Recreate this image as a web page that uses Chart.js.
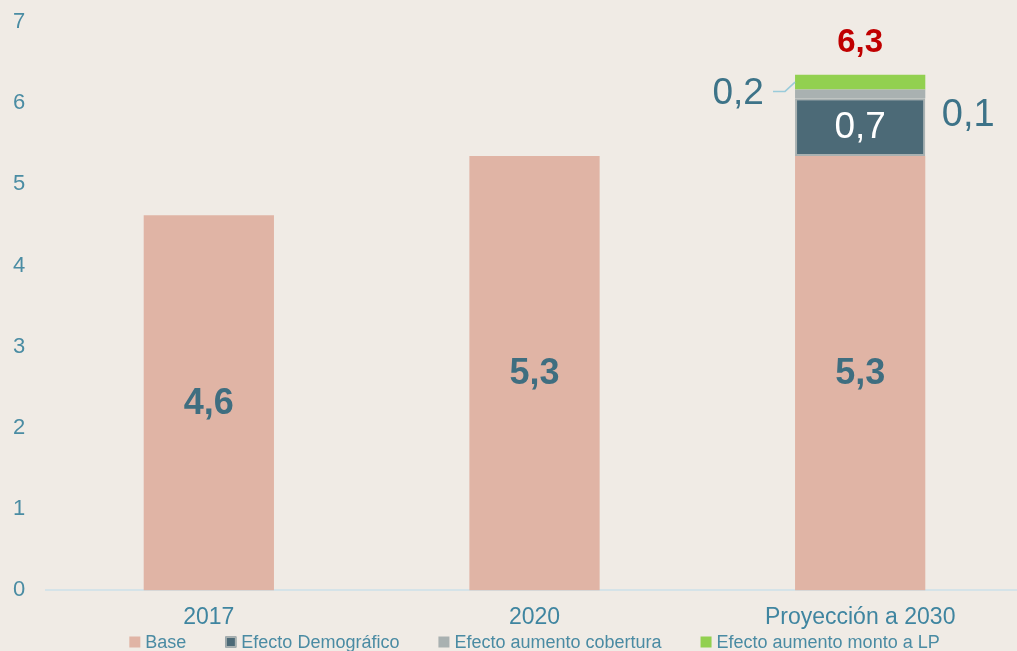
<!DOCTYPE html>
<html>
<head>
<meta charset="utf-8">
<script src="https://cdn.jsdelivr.net/npm/chart.js@4"></script>
<style>
  html, body { margin: 0; padding: 0; background: #F0EBE5; overflow: hidden; }
  #wrap { width: 1017px; height: 651px; overflow: hidden; }
</style>
</head>
<body>
<div id="wrap"><canvas id="chart" width="1023" height="651"></canvas></div>
<script>
'use strict';

const categories = ['2017', '2020', 'Proyección a 2030'];
const seriesNames = ['Base', 'Efecto Demográfico', 'Efecto aumento cobertura', 'Efecto aumento monto a LP'];
const seriesColors = ['#E0B4A5', '#4C6A77', '#A9B1B1', '#92D050'];
const baseValues = [4.62, 5.35, 5.35];
const demoValues = [0, 0, 0.71];
const coberturaValues = [0, 0, 0.11];
const montoValues = [0, 0, 0.18];
const yTicks = [0, 1, 2, 3, 4, 5, 6, 7];
const totalLabel = '6,3';

const FONT = '"Liberation Sans", Arial, sans-serif';
const fmt = v => v.toFixed(1).replace('.', ',');

// etiquetas de valores sobre las barras
const labelPlugin = {
    id: 'barLabels',
    afterDatasetsDraw(chart) {
        const c = chart.ctx;
        c.save();
        c.textAlign = 'center';
        c.textBaseline = 'middle';

        c.font = 'bold 36px ' + FONT;
        c.fillStyle = '#3F6E80';
        chart.getDatasetMeta(0).data.forEach((bar, i) => {
            c.fillText(fmt(baseValues[i]), bar.x, (bar.y + bar.base) / 2 + 1);
        });

        const last = categories.length - 1;
        const demo = chart.getDatasetMeta(1).data[last];
        const cob = chart.getDatasetMeta(2).data[last];
        const monto = chart.getDatasetMeta(3).data[last];
        const demoMid = (demo.y + demo.base) / 2;

        c.font = '37px ' + FONT;
        c.fillStyle = '#FFFFFF';
        c.fillText(fmt(demoValues[last]), demo.x, demoMid + 1);

        c.fillStyle = '#3D7388';
        c.font = '38px ' + FONT;
        c.fillText(fmt(coberturaValues[last]), demo.x + 108, demoMid - 12);
        c.font = '37px ' + FONT;
        c.fillText(fmt(montoValues[last]), monto.x - 122, cob.y + 4);

        // línea guía hacia el segmento verde
        const left = monto.x - monto.width / 2;
        const midY = (monto.y + monto.base) / 2;
        c.strokeStyle = '#9ACBDA';
        c.lineWidth = 1.5;
        c.beginPath();
        c.moveTo(left - 22, cob.y + 2);
        c.lineTo(left - 10, cob.y + 2);
        c.lineTo(left, midY);
        c.stroke();

        c.font = 'bold 33px ' + FONT;
        c.fillStyle = '#C00000';
        c.fillText(totalLabel, monto.x, monto.y - 32);
        c.restore();
    }
};

// leyenda inferior
const legendPlugin = {
    id: 'bottomLegend',
    afterDraw(chart) {
        const c = chart.ctx;
        const box = 11, gapText = 5, gapItem = 39, y = 642;
        c.save();
        c.font = '18px ' + FONT;
        c.textBaseline = 'middle';
        c.textAlign = 'left';
        const widths = seriesNames.map(n => c.measureText(n).width);
        const total = widths.reduce((a, w) => a + w + box + gapText, 0) + gapItem * (seriesNames.length - 1);
        let x = (chart.chartArea.left + chart.chartArea.right) / 2 - total / 2;
        seriesNames.forEach((name, i) => {
            c.fillStyle = seriesColors[i];
            c.fillRect(x, y - box / 2, box, box);
            if (i === 1) {
                c.strokeStyle = seriesColors[2];
                c.lineWidth = 1.5;
                c.strokeRect(x + 0.75, y - box / 2 + 0.75, box - 1.5, box - 1.5);
            }
            c.fillStyle = '#4A8BA3';
            c.fillText(name, x + box + gapText, y + 1);
            x += box + gapText + widths[i] + gapItem;
        });
        c.restore();
    }
};

const ctx = document.getElementById('chart').getContext('2d');

new Chart(ctx, {
    type: 'bar',
    data: {
        labels: categories,
        datasets: [
            {
                label: seriesNames[0],
                data: baseValues,
                backgroundColor: seriesColors[0],
                borderWidth: 0
            },
            {
                label: seriesNames[1],
                data: demoValues,
                backgroundColor: seriesColors[1],
                borderColor: seriesColors[2],
                borderWidth: 2,
                borderSkipped: false
            },
            {
                label: seriesNames[2],
                data: coberturaValues,
                backgroundColor: seriesColors[2],
                borderWidth: 0
            },
            {
                label: seriesNames[3],
                data: montoValues,
                backgroundColor: seriesColors[3],
                borderWidth: 0
            }
        ]
    },
    options: {
        responsive: false,
        animation: false,
        datasets: { bar: { barPercentage: 0.4, categoryPercentage: 1 } },
        layout: { padding: { top: 22, right: 0, left: 13, bottom: 7 } },
        plugins: {
            legend: { display: false },
            tooltip: { enabled: false }
        },
        scales: {
            x: {
                stacked: true,
                grid: { display: false, drawTicks: false },
                border: { color: '#D5E3E8', width: 2 },
                ticks: {
                    padding: 13,
                    color: '#3F85A0',
                    font: { family: FONT, size: 23 }
                }
            },
            y: {
                stacked: true,
                min: 0,
                max: 7,
                afterFit(scale) { scale.width = 33; },
                afterBuildTicks(scale) { scale.ticks = yTicks.map(v => ({ value: v })); },
                grid: { display: false, drawTicks: false },
                border: { display: false },
                ticks: {
                    padding: 0,
                    crossAlign: 'far',
                    color: '#4A8CA3',
                    font: { family: FONT, size: 22 }
                }
            }
        }
    },
    plugins: [labelPlugin, legendPlugin]
});
</script>
</body>
</html>
